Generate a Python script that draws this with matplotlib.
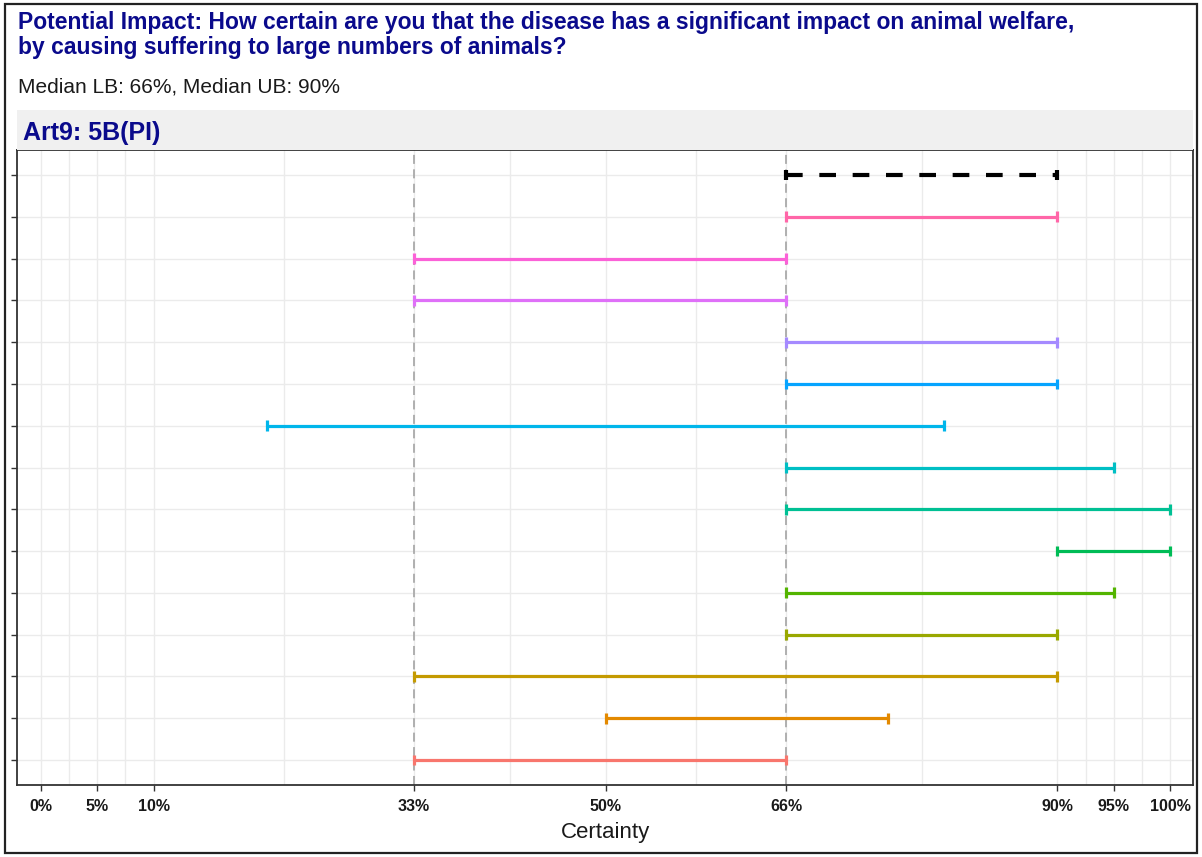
import matplotlib
matplotlib.use("Agg")
import matplotlib.pyplot as plt
from matplotlib.patches import Rectangle

plt.rcParams['font.family'] = ['Liberation Sans', 'DejaVu Sans']

# experts from bottom to top, median drawn on the top row
lower = [33, 50, 33, 66, 66, 90, 66, 66, 20, 66, 66, 33, 33, 66]
upper = [66, 75, 90, 90, 95, 100, 100, 95, 80, 90, 90, 66, 66, 90]
colours = ["#F8766D", "#E38900", "#C49A00", "#99A800", "#53B400", "#00BC56", "#00C094",
           "#00BFC4", "#00B6EB", "#06A4FF", "#A58AFF", "#DF70F8", "#FB61D7", "#FF66A8"]
median_lb = 66
median_ub = 90

tick_pos = [0, 5, 10, 33, 50, 66, 90, 95, 100]
tick_labels = ["0%", "5%", "10%", "33%", "50%", "66%", "90%", "95%", "100%"]
minor_pos = [2.5, 7.5, 21.5, 41.5, 58, 78, 92.5, 97.5]

title = ("Potential Impact: How certain are you that the disease has a significant impact on animal welfare,\n"
         "by causing suffering to large numbers of animals?")
subtitle = f"Median LB: {median_lb}%, Median UB: {median_ub}%"
strip_label = "Art9: 5B(PI)"

W, H = 1202, 857
fig = plt.figure(figsize=(W / 100, H / 100), dpi=100)

left, right, top, bottom = 17, 1193, 150, 785
ax = fig.add_axes([left / W, 1 - bottom / H, (right - left) / W, (bottom - top) / H])

n = len(lower) + 1
cap = 0.13
for i, (lo, hi, c) in enumerate(zip(lower, upper, colours)):
    ax.hlines(i + 1, lo, hi, color=c, lw=2.3, zorder=3)
    ax.vlines([lo, hi], i + 1 - cap, i + 1 + cap, color=c, lw=2.3, zorder=3)

ax.hlines(n, median_lb, median_ub, color="black", lw=3, linestyles=(0, (4, 4)), zorder=4)
ax.vlines([median_lb, median_ub], n - cap, n + cap, color="black", lw=3, zorder=4)

# dashed reference lines at the 33% / 66% bounds
for x in (33, 66):
    ax.axvline(x, color="#AAAAAA", lw=1.3, ls=(0, (5, 3)), zorder=2)

ax.set_xlim(-2.1, 102.0)
ax.set_ylim(0.4, n + 0.6)
ax.set_xticks(tick_pos)
ax.set_xticklabels(tick_labels, fontsize=11.5, fontweight="bold", color="#1A1A1A")
ax.set_xticks(minor_pos, minor=True)
ax.set_yticks(range(1, n + 1))
ax.set_yticklabels([])
ax.grid(True, which="major", color="#EBEBEB", lw=1.0, zorder=0)
ax.grid(True, which="minor", axis="x", color="#EBEBEB", lw=1.0, zorder=0)
ax.tick_params(axis="both", which="major", length=4, width=1, color="#333333", pad=6)
ax.tick_params(axis="x", which="minor", length=0)
for s in ax.spines.values():
    s.set_color("#333333")
    s.set_linewidth(1.3)
ax.set_xlabel("Certainty", fontsize=16, labelpad=6, color="#1A1A1A")

# facet strip
fig.patches.append(Rectangle((left / W, 1 - top / H), (right - left) / W, 40 / H,
                             transform=fig.transFigure, facecolor="#F0F0F0", edgecolor="none"))
fig.text(23 / W, 1 - 133 / H, strip_label, fontsize=18, fontweight="bold", color="#0A0A8C", va="center")

fig.text(18 / W, 1 - 11 / H, title, fontsize=16.5, fontweight="bold", color="#0A0A8C",
         va="top", linespacing=1.1)
fig.text(18 / W, 1 - 87 / H, subtitle, fontsize=15, color="#1A1A1A", va="center")

# outer frame
fig.patches.append(Rectangle((5 / W, 4 / H), (W - 10) / W, (H - 8) / H, transform=fig.transFigure,
                             facecolor="none", edgecolor="#222222", lw=1.6))

fig.savefig("out.png", dpi=100)
